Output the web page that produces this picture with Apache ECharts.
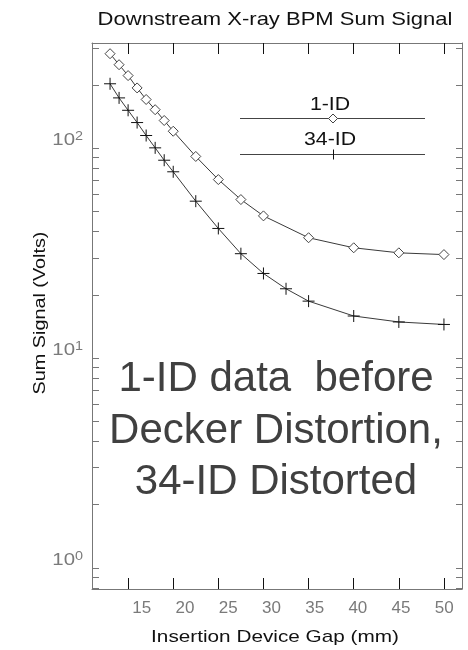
<!DOCTYPE html>
<html>
<head>
<meta charset="utf-8">
<script src="https://cdn.jsdelivr.net/npm/echarts@6/dist/echarts.min.js"></script>
<style>html,body{margin:0;padding:0;background:#fff;}#chart{width:468px;height:650px;}</style>
</head>
<body>
<div id="chart"></div>
<script>
// ---- data ----
const gap1 = [13, 14, 15, 16, 17, 18, 19, 20, 22.5, 25, 27.5, 30, 35, 40, 45, 50];
const sig1 = [281, 249, 221, 193, 170, 152, 135, 120, 91, 70.6, 56.7, 47.4, 37.3, 33.4, 31.6, 31.0];
const gap34 = [13, 14, 15, 16, 17, 18, 19, 20, 22.5, 25, 27.5, 30, 32.5, 35, 40, 45, 50];
const sig34 = [202, 173, 151, 132, 114.5, 100, 87.3, 76.9, 55.7, 41.3, 31.3, 25.2, 21.3, 18.6, 15.8, 14.8, 14.4];
const xTicks = [15, 20, 25, 30, 35, 40, 45, 50];
const yTicks = [0.8, 0.9, 1, 2, 3, 4, 5, 6, 7, 8, 9, 10, 20, 30, 40, 50, 60, 70, 80, 90, 100, 200, 300];
const yDecades = [1, 10, 100];
const xMin = 11, xMax = 52, yMin = 0.79, yMax = 316;
// the tick-label row of the reference is slightly narrower than the tick row
const xLabelMin = 9.24, xLabelMax = 52.05;
const titleText = 'Downstream X-ray BPM Sum Signal';
const xName = 'Insertion Device Gap (mm)';
const yName = 'Sum Signal (Volts)';
const legendNames = ['1-ID', '34-ID'];
const noteLines = ['1-ID data  before', 'Decker Distortion,', '34-ID Distorted'];

const FF = "'Liberation Sans', Arial, Helvetica, sans-serif";
const crossPath = 'path://M0,5L10,5M5,0L5,10';

const chart = echarts.init(document.getElementById('chart'), null, {renderer: 'canvas'});
const gridBox = {left: 92, right: 6, top: 43, bottom: 61, containLabel: false};

const option = {
  animation: false,
  backgroundColor: '#fff',
  grid: [Object.assign({}, gridBox), Object.assign({}, gridBox)],
  xAxis: [{
    type: 'value', gridIndex: 0, min: xMin, max: xMax, position: 'bottom',
    axisLine: {show: true, onZero: false, lineStyle: {color: '#777', width: 1}},
    axisTick: {show: true, inside: true, length: 11, customValues: xTicks, lineStyle: {color: '#111', width: 1}},
    axisLabel: {show: false},
    splitLine: {show: false}
  }, {
    type: 'value', gridIndex: 0, min: xMin, max: xMax, position: 'top',
    axisLine: {show: true, onZero: false, lineStyle: {color: '#777', width: 1}},
    axisTick: {show: true, inside: true, length: 11, customValues: xTicks, lineStyle: {color: '#111', width: 1}},
    axisLabel: {show: false},
    splitLine: {show: false}
  }, {
    type: 'value', gridIndex: 1, min: xLabelMin, max: xLabelMax, position: 'bottom',
    axisLine: {show: false}, axisTick: {show: false},
    axisLabel: {show: true, customValues: xTicks, margin: 11, fontFamily: FF, fontSize: 17, color: '#7a7a7a'},
    splitLine: {show: false}
  }],
  yAxis: [{
    type: 'log', gridIndex: 0, min: yMin, max: yMax, position: 'left',
    axisLine: {show: true, onZero: false, lineStyle: {color: '#777', width: 1}},
    axisTick: {show: false}, axisLabel: {show: false}, splitLine: {show: false}, minorTick: {show: false}
  }, {
    type: 'log', gridIndex: 0, min: yMin, max: yMax, position: 'right',
    axisLine: {show: true, onZero: false, lineStyle: {color: '#777', width: 1}},
    axisTick: {show: false}, axisLabel: {show: false}, splitLine: {show: false}
  }, {
    type: 'log', gridIndex: 1, min: yMin, max: yMax, show: false
  }],
  graphic: [
    {type: 'text', x: 275, y: 20, scaleX: 1.19, style: {text: titleText, font: '18.5px ' + FF, fill: '#111', align: 'center', verticalAlign: 'middle'}},
    {type: 'text', x: 275, y: 637, scaleX: 1.22, style: {text: xName, font: '17px ' + FF, fill: '#111', align: 'center', verticalAlign: 'middle'}},
    {type: 'text', x: 40, y: 313, rotation: Math.PI / 2, scaleX: 1.2, style: {text: yName, font: '16.5px ' + FF, fill: '#111', align: 'center', verticalAlign: 'middle'}},
    // legend
    {type: 'text', x: 330, y: 105, scaleX: 1.15, style: {text: legendNames[0], font: '18.5px ' + FF, fill: '#111', align: 'center', verticalAlign: 'middle'}},
    {type: 'line', shape: {x1: 240, y1: 118.5, x2: 425, y2: 118.5}, style: {stroke: '#444', lineWidth: 1}},
    {type: 'polygon', shape: {points: [[333, 114], [337.5, 118.5], [333, 123], [328.5, 118.5]]}, style: {fill: '#fff', stroke: '#444', lineWidth: 1}},
    {type: 'text', x: 330, y: 140, scaleX: 1.15, style: {text: legendNames[1], font: '18.5px ' + FF, fill: '#111', align: 'center', verticalAlign: 'middle'}},
    {type: 'line', shape: {x1: 240, y1: 154.5, x2: 425, y2: 154.5}, style: {stroke: '#444', lineWidth: 1}},
    {type: 'line', shape: {x1: 333.5, y1: 149.5, x2: 333.5, y2: 159.5}, style: {stroke: '#111', lineWidth: 1}},
    // annotation
    {type: 'text', x: 276, y: 379, style: {text: noteLines[0], font: '42px ' + FF, fill: '#404040', align: 'center', verticalAlign: 'middle'}},
    {type: 'text', x: 276, y: 431, style: {text: noteLines[1], font: '42px ' + FF, fill: '#404040', align: 'center', verticalAlign: 'middle'}},
    {type: 'text', x: 276, y: 482.5, style: {text: noteLines[2], font: '42px ' + FF, fill: '#404040', align: 'center', verticalAlign: 'middle'}}
  ],
  series: [
    {
      type: 'custom', name: 'yticks', coordinateSystem: 'cartesian2d', xAxisIndex: 0, yAxisIndex: 0,
      clip: false, silent: true, z: 5,
      data: yTicks.map(v => [xMin, v]),
      renderItem: function (params, api) {
        const v = api.value(1);
        const p = api.coord([xMin, v]);
        const q = api.coord([xMax, v]);
        const y = Math.round(p[1]) + 0.5;
        const children = [
          {type: 'line', shape: {x1: p[0], y1: y, x2: p[0] + 7, y2: y}, style: {stroke: '#777', lineWidth: 1}},
          {type: 'line', shape: {x1: q[0] - 6, y1: y, x2: q[0], y2: y}, style: {stroke: '#777', lineWidth: 1}}
        ];
        const e = Math.log10(v);
        if (yDecades.indexOf(v) >= 0) {
          children.push({
            type: 'text', x: p[0] - 9, y: p[1] + 1, scaleX: 1.2,
            style: {
              text: '{b|10}{s|' + Math.round(e) + '}',
              align: 'right', verticalAlign: 'bottom',
              rich: {
                b: {fontFamily: FF, fontSize: 17, fill: '#7a7a7a', color: '#7a7a7a', lineHeight: 18, verticalAlign: 'bottom'},
                s: {fontFamily: FF, fontSize: 12, fill: '#7a7a7a', color: '#7a7a7a', lineHeight: 18, verticalAlign: 'top'}
              }
            }
          });
        }
        return {type: 'group', children: children};
      }
    },
    {
      type: 'line', name: legendNames[0], xAxisIndex: 0, yAxisIndex: 0,
      data: gap1.map((g, i) => [g, sig1[i]]),
      symbol: 'diamond', symbolSize: 10, showAllSymbol: true,
      lineStyle: {color: '#3a3a3a', width: 1},
      itemStyle: {color: '#fff', borderColor: '#444', borderWidth: 1},
      z: 3
    },
    {
      type: 'line', name: legendNames[1], xAxisIndex: 0, yAxisIndex: 0,
      data: gap34.map((g, i) => [g, sig34[i]]),
      symbol: crossPath, symbolSize: 12, showAllSymbol: true,
      lineStyle: {color: '#3a3a3a', width: 1},
      itemStyle: {color: '#111', borderColor: '#111', borderWidth: 1},
      z: 3
    }
  ]
};
chart.setOption(option);
</script>
</body>
</html>
